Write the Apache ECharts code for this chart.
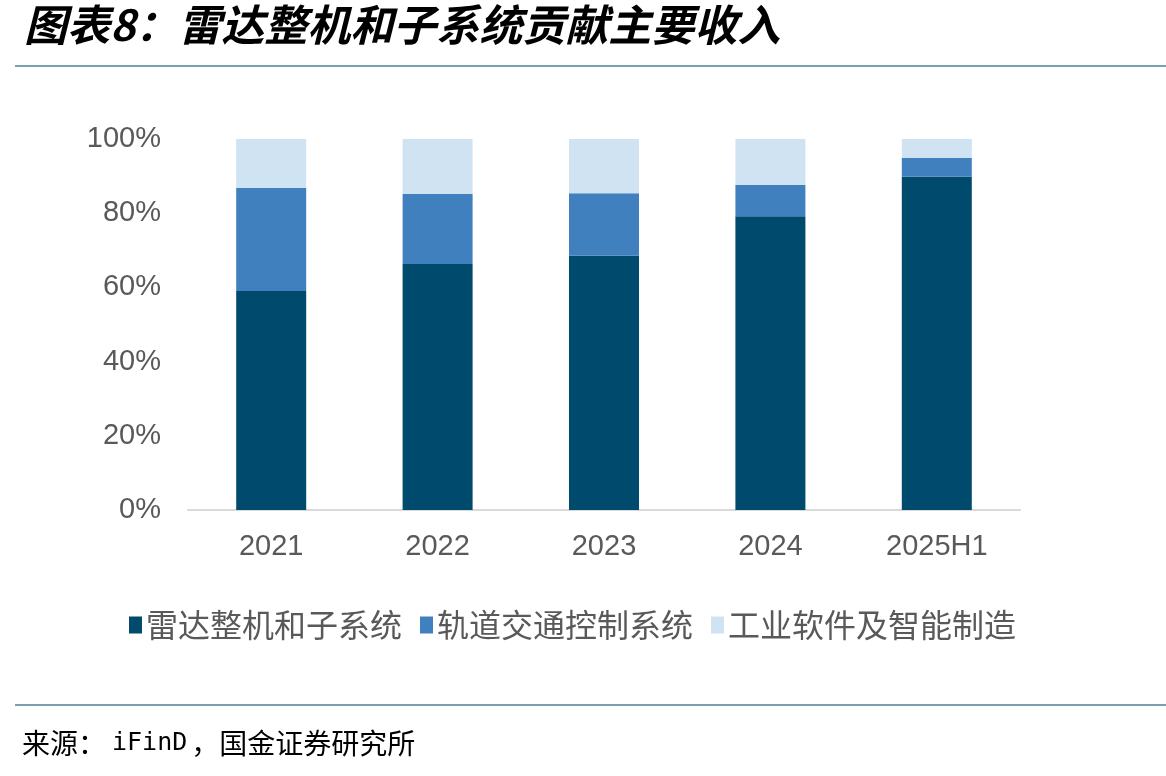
<!DOCTYPE html>
<html>
<head>
<meta charset="utf-8">
<script src="https://cdn.jsdelivr.net/npm/echarts@6/dist/echarts.min.js"></script>
<style>
  html, body { margin: 0; padding: 0; background: #fff; }
  #main { width: 1166px; height: 776px; }
</style>
</head>
<body>
<div id="main"></div>
<script>
// 数据
var years = ['2021', '2022', '2023', '2024', '2025H1']
var radar = [59.0, 66.3, 68.5, 79.2, 89.8]     // 雷达整机和子系统
var rail = [27.8, 18.9, 16.9, 8.4, 5.1]        // 轨道交通控制系统
var software = [13.2, 14.8, 14.6, 12.4, 5.1]   // 工业软件及智能制造
var yTicks = ['0%', '20%', '40%', '60%', '80%', '100%']

var chart = echarts.init(document.getElementById('main'))
var font = '"Liberation Sans", Arial, "Noto Sans CJK SC", sans-serif'

var option = {
  backgroundColor: '#fff',
  animation: false,
  color: ['#004a6e', '#4080bf', '#d0e3f3'],
  grid: { left: 188, right: 146, top: 139, bottom: 266 },
  legend: {
    top: 604,
    left: 124,
    itemWidth: 13,
    itemHeight: 17,
    itemGap: 18,
    icon: 'rect',
    textStyle: { fontSize: 32, color: '#595959', fontFamily: '"Noto Sans CJK SC", sans-serif', padding: [0, 0, 0, -1] },
    data: ['雷达整机和子系统', '轨道交通控制系统', '工业软件及智能制造']
  },
  xAxis: {
    type: 'category',
    data: years,
    axisLine: { lineStyle: { color: '#d9d9d9', width: 2 } },
    axisTick: { show: false },
    axisLabel: { fontSize: 29, color: '#595959', margin: 22, fontFamily: font }
  },
  yAxis: {
    type: 'value',
    min: 0,
    max: 100,
    interval: 20,
    splitLine: { show: false },
    axisLine: { show: false },
    axisTick: { show: false },
    axisLabel: {
      fontSize: 29, color: '#595959', margin: 27, fontFamily: font,
      formatter: function (v) { return yTicks[v / 20] }
    }
  },
  series: [
    { name: '雷达整机和子系统', type: 'bar', stack: 'a', barWidth: 70, data: radar },
    { name: '轨道交通控制系统', type: 'bar', stack: 'a', barWidth: 70, data: rail },
    { name: '工业软件及智能制造', type: 'bar', stack: 'a', barWidth: 70, data: software }
  ],
  graphic: [
    {
      type: 'text', left: 24, top: 3,
      style: {
        text: '图表8：雷达整机和子系统贡献主要收入',
        font: 'italic bold 43px "Noto Sans CJK SC", sans-serif',
        fill: '#000'
      }
    },
    { type: 'rect', shape: { x: 15, y: 65, width: 1151, height: 2 }, style: { fill: '#7a9fb2' } },
    { type: 'rect', shape: { x: 15, y: 704, width: 1151, height: 2 }, style: { fill: '#7a9fb2' } },
    {
      type: 'text', left: 22, top: 729,
      style: {
        text: '{c|来源：}{m|iFinD}{c|，国金证券研究所}',
        rich: {
          c: { font: '28px "Noto Sans CJK SC", sans-serif', fill: '#000' },
          m: { font: '25px "DejaVu Sans Mono", monospace', fill: '#000', padding: [0, 4, 0, 6] }
        }
      }
    }
  ]
}

chart.setOption(option)
</script>
</body>
</html>
